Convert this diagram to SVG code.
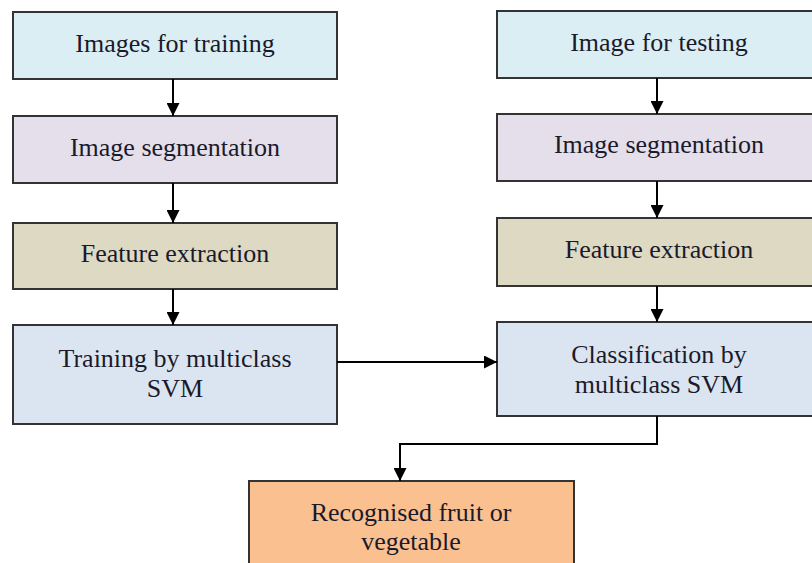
<svg xmlns="http://www.w3.org/2000/svg" width="812" height="563" viewBox="0 0 812 563">
<defs>
<marker id="ah" viewBox="0 0 10 10" refX="10" refY="5" markerWidth="13" markerHeight="13" markerUnits="userSpaceOnUse" orient="auto">
<path d="M0,0 L10,5 L0,10 z" fill="#000"/>
</marker>
</defs>
<style>
.box{stroke:#333;stroke-width:2}
.t{font-family:"Liberation Serif","Times New Roman",serif;font-size:26px;fill:#1a1a2a;text-anchor:middle}
.c{stroke:#000;stroke-width:2;fill:none;marker-end:url(#ah)}
</style>
<rect width="812" height="563" fill="#fff"/>
<g id="train-images"><rect class="box" x="13" y="12" width="324" height="67" fill="#dbeef4"/><text class="t" x="175" y="52">Images for training</text></g>
<g id="train-seg"><rect class="box" x="13" y="116" width="324" height="67" fill="#e5dfec"/><text class="t" x="175" y="156">Image segmentation</text></g>
<g id="train-feat"><rect class="box" x="13" y="223" width="324" height="66" fill="#ddd9c3"/><text class="t" x="175" y="262">Feature extraction</text></g>
<g id="train-svm"><rect class="box" x="13" y="325" width="324" height="99" fill="#dbe5f1"/><text class="t" x="175" y="367">Training by multiclass</text><text class="t" x="175" y="397">SVM</text></g>
<g id="test-images"><rect class="box" x="497" y="11" width="330" height="67" fill="#dbeef4"/><text class="t" x="659" y="51">Image for testing</text></g>
<g id="test-seg"><rect class="box" x="497" y="114" width="330" height="67" fill="#e5dfec"/><text class="t" x="659" y="153">Image segmentation</text></g>
<g id="test-feat"><rect class="box" x="497" y="218" width="330" height="68" fill="#ddd9c3"/><text class="t" x="659" y="258">Feature extraction</text></g>
<g id="test-svm"><rect class="box" x="497" y="322" width="330" height="94" fill="#dbe5f1"/><text class="t" x="659" y="363">Classification by</text><text class="t" x="659" y="393">multiclass SVM</text></g>
<g id="result"><rect class="box" x="249" y="481" width="325" height="100" fill="#fac090"/><text class="t" x="411" y="521">Recognised fruit or</text><text class="t" x="411" y="550">vegetable</text></g>
<g id="connectors">
<line class="c" x1="173" y1="79" x2="173" y2="116"/>
<line class="c" x1="173" y1="183" x2="173" y2="223"/>
<line class="c" x1="173" y1="289" x2="173" y2="325"/>
<line class="c" x1="657" y1="78" x2="657" y2="114"/>
<line class="c" x1="657" y1="181" x2="657" y2="218"/>
<line class="c" x1="657" y1="286" x2="657" y2="322"/>
<line class="c" x1="337" y1="362" x2="497" y2="362"/>
<polyline class="c" points="657,416 657,444 400,444 400,481"/>
</g>
</svg>
